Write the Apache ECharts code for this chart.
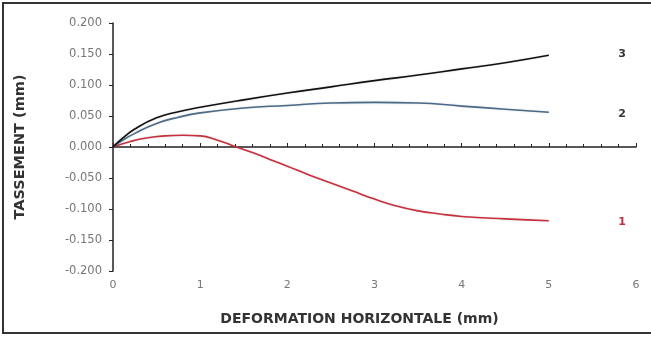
<!DOCTYPE html>
<html>
<head>
<meta charset="utf-8">
<script src="https://cdn.jsdelivr.net/npm/echarts@6/dist/echarts.min.js"></script>
<style>
  html, body { margin: 0; padding: 0; background: #fff; }
  #chart { width: 651px; height: 337px; }
</style>
</head>
<body>
<div id="chart"></div>
<script>
// courbes : [deformation, tassement]
const courbe1 = [[0, 0], [0.2, 0.009], [0.4, 0.015], [0.6, 0.018], [0.8, 0.019], [1.0, 0.018],
    [1.2, 0.011], [1.4, 0.001], [1.6, -0.009], [1.8, -0.02], [2.0, -0.031], [2.25, -0.045],
    [2.5, -0.058], [2.75, -0.071], [3.0, -0.084], [3.25, -0.095], [3.5, -0.103], [3.75, -0.108],
    [4.0, -0.112], [4.5, -0.116], [5.0, -0.119]]
const courbe2 = [[0, 0], [0.1, 0.01], [0.25, 0.022], [0.5, 0.038], [0.75, 0.048], [1, 0.055],
    [1.5, 0.063], [2, 0.067], [2.5, 0.071], [3, 0.072], [3.5, 0.071], [4, 0.066], [4.5, 0.061], [5, 0.056]]
const courbe3 = [[0, 0], [0.1, 0.013], [0.25, 0.029], [0.5, 0.047], [0.75, 0.057], [1, 0.064],
    [1.5, 0.076], [2, 0.087], [2.5, 0.097], [3, 0.107], [3.5, 0.116], [4, 0.126], [4.5, 0.136], [5, 0.148]]
const etiquettes = ['1', '2', '3']
const posEtiquettes = [[5.84, -0.122], [5.84, 0.053], [5.84, 0.15]]

let chart = echarts.init(document.getElementById('chart'))

function serie(nom, data, couleur, idx) {
    return {
        name: nom,
        type: 'line',
        smooth: true,
        showSymbol: false,
        data: data,
        lineStyle: { color: couleur, width: 1.6, shadowColor: 'rgba(0,0,0,0.15)', shadowBlur: 2 },
        itemStyle: { color: couleur },
        markPoint: {
            symbol: 'circle',
            symbolSize: 0,
            silent: true,
            data: [{ coord: posEtiquettes[idx], value: etiquettes[idx] }],
            label: {
                show: true,
                position: 'inside',
                color: idx === 0 ? '#c03040' : '#333',
                fontWeight: 'bold',
                fontSize: 11,
                fontFamily: 'DejaVu Sans',
                formatter: '{c}'
            }
        }
    }
}

let option = {
    backgroundColor: '#fff',
    animation: false,
    grid: { left: 113, right: 15, top: 23, bottom: 66, outerBoundsMode: 'none' },
    graphic: [{
        type: 'rect',
        shape: { x: 3, y: 3, width: 660, height: 330 },
        style: { fill: 'none', stroke: '#333', lineWidth: 2 },
        silent: true
    }],
    xAxis: {
        type: 'value',
        min: 0, max: 6, interval: 1,
        name: 'DEFORMATION HORIZONTALE (mm)',
        nameLocation: 'middle',
        nameGap: 41,
        nameTextStyle: {
            fontSize: 14, fontWeight: 'bold', color: '#333', fontFamily: 'DejaVu Sans',
            padding: [0, 30, 0, 0]
        },
        axisLine: { onZero: true, lineStyle: { color: '#222', width: 1.5 } },
        axisTick: { show: true, length: 4, inside: true, lineStyle: { color: '#222' } },
        minorTick: { show: true, splitNumber: 5, length: 3, lineStyle: { color: '#222' } },
        axisLabel: { color: '#777', fontSize: 11, margin: 9, fontFamily: 'DejaVu Sans' },
        splitLine: { show: false }
    },
    yAxis: {
        type: 'value',
        min: -0.2, max: 0.2, interval: 0.05,
        name: 'TASSEMENT (mm)',
        nameLocation: 'middle',
        nameRotate: 90,
        nameGap: 85,
        nameTextStyle: { fontSize: 14.5, fontWeight: 'bold', color: '#333', fontFamily: 'DejaVu Sans' },
        axisLine: { show: true, lineStyle: { color: '#222', width: 1.5 } },
        axisTick: { show: true, length: 4, lineStyle: { color: '#222' } },
        axisLabel: {
            color: '#777', fontSize: 11.5, margin: 11, fontFamily: 'DejaVu Sans',
            formatter: v => v.toFixed(3)
        },
        splitLine: { show: false }
    },
    series: [
        serie('1', courbe1, '#c8303e', 0),
        serie('2', courbe2, '#4a6a88', 1),
        serie('3', courbe3, '#111', 2)
    ]
}

chart.setOption(option)
</script>
</body>
</html>
